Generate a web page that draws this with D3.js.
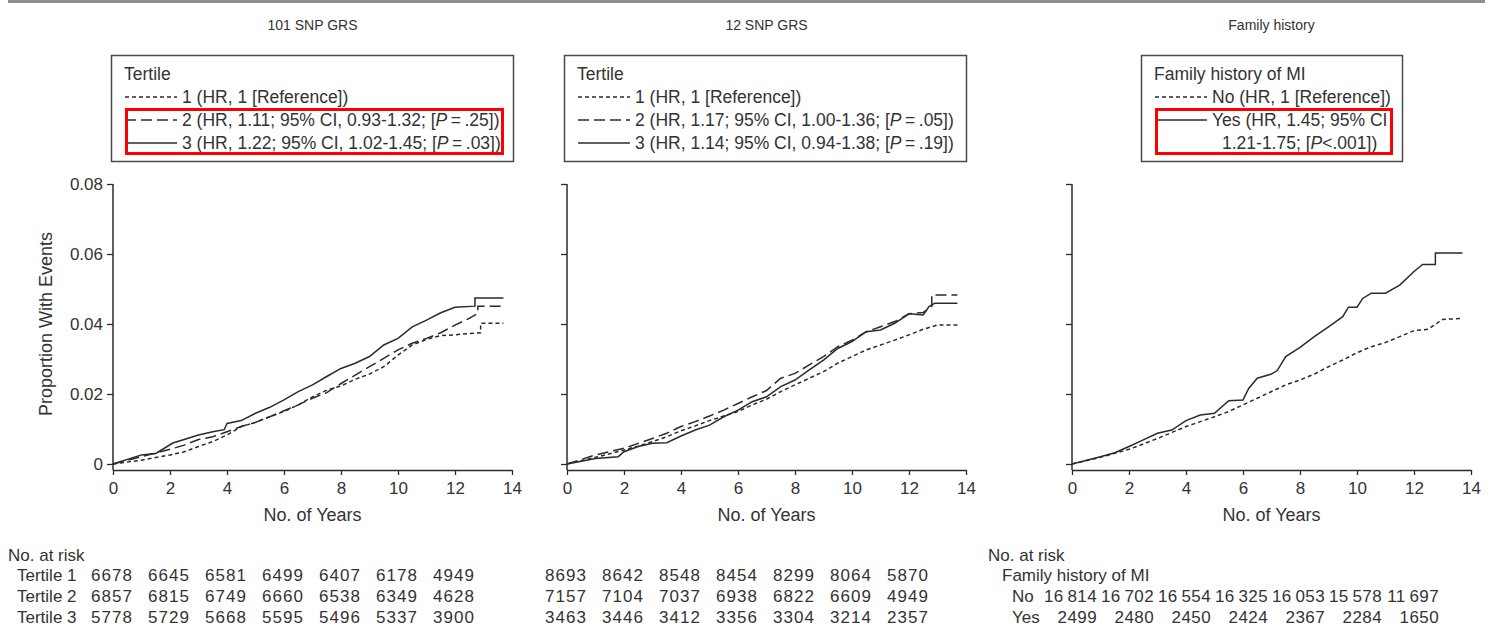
<!DOCTYPE html>
<html>
<head>
<meta charset="utf-8">
<script src="https://cdn.jsdelivr.net/npm/d3@7"></script>
<style>
  body { margin: 0; background: #fff; }
  svg text { font-family: "Liberation Sans", Arial, sans-serif; fill: #333; }
</style>
</head>
<body>
<svg id="chart" width="1494" height="627"></svg>
<script>
// cumulative event curves: [years, proportion]
const grs101T1 = [[0,0],[1,0.0011],[2,0.0026],[2.5,0.0035],[3,0.005],[3.5,0.0064],[4,0.0083],[4.5,0.0107],[5,0.0119],[5.5,0.0135],[6,0.015],[6.5,0.0169],[7,0.0192],[7.5,0.0211],[8,0.0223],[8.5,0.0242],[9,0.0257],[9.5,0.0278],[10,0.0311],[10.5,0.034],[11,0.0356],[11.5,0.0367],[12,0.0369],[12.5,0.0373],[12.9,0.0375],[12.9,0.0402],[13.7,0.0402]];
const grs101T2 = [[0,0],[1,0.0021],[2,0.0042],[2.5,0.0054],[3,0.007],[3.5,0.0078],[4,0.0092],[4.5,0.0107],[5,0.0119],[5.5,0.0135],[6,0.0152],[6.5,0.0169],[7,0.0188],[7.5,0.0204],[8,0.023],[8.5,0.0254],[9,0.0278],[9.5,0.0302],[10,0.0326],[10.5,0.0345],[11,0.0359],[11.5,0.0375],[12,0.0397],[12.5,0.0416],[12.8,0.043],[12.8,0.0451],[13.7,0.0451]];
const grs101T3 = [[0,0],[1,0.0026],[1.5,0.003],[2.1,0.006],[3,0.0083],[3.5,0.0092],[3.9,0.0098],[4,0.0116],[4.5,0.0124],[5,0.0145],[5.5,0.0162],[6,0.0183],[6.5,0.0207],[7,0.0226],[7.5,0.025],[8,0.0273],[8.5,0.0288],[9,0.0307],[9.5,0.034],[10,0.0359],[10.5,0.0392],[11,0.0411],[11.5,0.0432],[12,0.0448],[12.7,0.0451],[12.7,0.0474],[13.7,0.0474]];

const grs12T1 = [[0,0],[1,0.0019],[2,0.004],[2.5,0.0051],[3,0.0064],[3.5,0.0078],[4,0.0095],[4.5,0.0109],[5,0.0124],[5.5,0.0137],[6,0.015],[6.5,0.0169],[7,0.0185],[7.5,0.0207],[8,0.0226],[8.5,0.0245],[9,0.0264],[9.5,0.0288],[10,0.0307],[10.5,0.0326],[11,0.034],[11.5,0.0354],[12,0.0369],[12.5,0.0385],[13,0.0397],[13.7,0.0397]];
const grs12T2 = [[0,0],[1,0.0026],[2,0.0045],[2.5,0.0059],[3,0.0073],[3.5,0.0088],[4,0.0107],[4.5,0.0121],[5,0.0137],[5.5,0.0154],[6,0.0173],[6.5,0.0192],[7,0.021],[7.5,0.0245],[8,0.0259],[8.5,0.0283],[9,0.0307],[9.5,0.0335],[10,0.0354],[10.5,0.0378],[11,0.0392],[11.5,0.0407],[12,0.0429],[12.5,0.0433],[12.8,0.045],[12.8,0.0483],[13.7,0.0483]];
const grs12T3 = [[0,0],[1,0.0016],[1.8,0.0021],[2,0.0035],[2.5,0.005],[3,0.0059],[3.5,0.0061],[4,0.008],[4.5,0.0097],[5,0.0111],[5.5,0.0135],[6,0.0154],[6.5,0.0178],[7,0.0192],[7.5,0.0221],[8,0.024],[8.5,0.0269],[9,0.0297],[9.5,0.033],[10,0.035],[10.5,0.0378],[11,0.0383],[11.5,0.0402],[12,0.0429],[12.5,0.0426],[12.7,0.045],[12.9,0.0459],[13.7,0.0459]];

const famNo = [[0,0],[1,0.0019],[2,0.0042],[2.5,0.0057],[3,0.0073],[3.5,0.009],[4,0.0107],[4.5,0.0121],[5,0.0135],[5.5,0.015],[6,0.0169],[6.5,0.0188],[7,0.0207],[7.5,0.0226],[8,0.024],[8.5,0.0257],[9,0.0278],[9.5,0.0297],[10,0.0318],[10.5,0.0335],[11,0.0347],[11.5,0.0364],[12,0.0381],[12.5,0.0385],[13,0.0413],[13.7,0.0416]];
const famYes = [[0,0],[1,0.0021],[1.5,0.0032],[2,0.005],[2.5,0.0069],[3,0.0088],[3.5,0.0097],[4,0.0124],[4.5,0.014],[5,0.0145],[5.5,0.0181],[6,0.0183],[6.2,0.0216],[6.5,0.0245],[7,0.0257],[7.2,0.0267],[7.5,0.0307],[8,0.0333],[8.5,0.0364],[9,0.0392],[9.5,0.0421],[9.7,0.0448],[10,0.0448],[10.2,0.0473],[10.5,0.0488],[11,0.0488],[11.5,0.0511],[12,0.055],[12.3,0.057],[12.75,0.057],[12.75,0.0603],[13.7,0.0603]];

// numbers at risk
const riskYears = [0, 2, 4, 6, 8, 10, 12];
const risk101 = [[6678,6645,6581,6499,6407,6178,4949],[6857,6815,6749,6660,6538,6349,4628],[5778,5729,5668,5595,5496,5337,3900]];
const risk12 = [[8693,8642,8548,8454,8299,8064,5870],[7157,7104,7037,6938,6822,6609,4949],[3463,3446,3412,3356,3304,3214,2357]];
const riskFam = [[16814,16702,16554,16325,16053,15578,11697],[2499,2480,2450,2424,2367,2284,1650]];

const xTicks = [0, 2, 4, 6, 8, 10, 12, 14];
const yTicks = [0, 0.02, 0.04, 0.06, 0.08];

const panelTitles = ['101 SNP GRS', '12 SNP GRS', 'Family history'];
const tertileLabels = ['Tertile 1', 'Tertile 2', 'Tertile 3'];

const dashes = { short: '4,3', long: '11,5', solid: null };

const panels = [
  {
    title: panelTitles[0], x0: 113,
    series: [{ data: grs101T1, dash: 'short' }, { data: grs101T2, dash: 'long' }, { data: grs101T3, dash: 'solid' }],
    legend: { x: 111, w: 402, head: 'Tertile', rows: [
      { dash: 'short', lines: [['1 (HR, 1 [Reference])']] },
      { dash: 'long', lines: [['2 (HR, 1.11; 95% CI, 0.93-1.32; [', ['P', true], '\u2009=\u2009.25])']] },
      { dash: 'solid', lines: [['3 (HR, 1.22; 95% CI, 1.02-1.45; [', ['P', true], '\u2009=\u2009.03])']] }
    ], highlight: { w: 376 } },
    yLabels: true
  },
  {
    title: panelTitles[1], x0: 567,
    series: [{ data: grs12T1, dash: 'short' }, { data: grs12T2, dash: 'long' }, { data: grs12T3, dash: 'solid' }],
    legend: { x: 564, w: 402, head: 'Tertile', rows: [
      { dash: 'short', lines: [['1 (HR, 1 [Reference])']] },
      { dash: 'long', lines: [['2 (HR, 1.17; 95% CI, 1.00-1.36; [', ['P', true], '\u2009=\u2009.05])']] },
      { dash: 'solid', lines: [['3 (HR, 1.14; 95% CI, 0.94-1.38; [', ['P', true], '\u2009=\u2009.19])']] }
    ] },
    yLabels: false
  },
  {
    title: panelTitles[2], x0: 1072,
    series: [{ data: famNo, dash: 'short' }, { data: famYes, dash: 'solid' }],
    legend: { x: 1141, w: 261, head: 'Family history of MI', rows: [
      { dash: 'short', lines: [['No (HR, 1 [Reference])']] },
      { dash: 'solid', lines: [['Yes (HR, 1.45; 95% CI'], ['1.21-1.75; [', ['P', true], '<.001])']] }
    ], highlight: { w: 235 } },
    yLabels: false
  }
];

const svg = d3.select('#chart');
const ink = '#2b2b2b';

// grey rule across the top
svg.append('line').attr('x1', 8).attr('x2', 1485).attr('y1', 1.5).attr('y2', 1.5)
  .attr('stroke', '#8e8e8e').attr('stroke-width', 3);

panels.forEach((p, i) => {
  const x = d3.scaleLinear().domain([0, 14]).range([p.x0, p.x0 + 399]);
  const y = d3.scaleLinear().domain([0, 0.08]).range([464, 184]);
  const cx = (x.range()[0] + x.range()[1]) / 2;
  const g = svg.append('g');

  g.append('text').attr('x', cx).attr('y', 30).attr('text-anchor', 'middle')
    .style('font-size', '14px').text(p.title);

  // y axis
  const yAxis = g.append('g').attr('transform', `translate(${p.x0},0)`)
    .call(d3.axisLeft(y).tickValues(yTicks).tickSize(6).tickPadding(4)
      .tickFormat(p.yLabels ? (d) => (d === 0 ? '0' : d3.format('.2f')(d)) : () => ''));
  yAxis.select('.domain').remove();
  yAxis.selectAll('line').attr('stroke', ink).attr('stroke-width', 1.3);
  yAxis.selectAll('text').style('font-size', '17px').attr('fill', '#333');
  g.append('line').attr('x1', p.x0).attr('x2', p.x0).attr('y1', y(0.08)).attr('y2', y(0) + 6)
    .attr('stroke', ink).attr('stroke-width', 1.5);

  // x axis
  const xAxis = g.append('g').attr('transform', `translate(0,${y(0) + 6})`)
    .call(d3.axisBottom(x).tickValues(xTicks).tickSize(5).tickPadding(7).tickSizeOuter(0));
  xAxis.select('.domain').attr('stroke', ink).attr('stroke-width', 1.5);
  xAxis.selectAll('line').attr('stroke', ink).attr('stroke-width', 1.3);
  xAxis.selectAll('text').style('font-size', '17px').attr('fill', '#333');

  g.append('text').attr('x', cx).attr('y', 521).attr('text-anchor', 'middle')
    .style('font-size', '18px').text('No. of Years');

  if (p.yLabels) {
    g.append('text').attr('transform', `translate(52,${(y(0) + y(0.08)) / 2}) rotate(-90)`)
      .attr('text-anchor', 'middle').style('font-size', '18px').text('Proportion With Events');
  }

  // curves
  const line = d3.line().x((d) => x(d[0])).y((d) => y(d[1]));
  g.selectAll('path.curve').data(p.series).join('path')
    .attr('class', 'curve')
    .attr('d', (d) => line(d.data))
    .attr('fill', 'none')
    .attr('stroke', ink)
    .attr('stroke-width', 1.5)
    .attr('stroke-dasharray', (d) => dashes[d.dash]);

  // legend
  const L = p.legend;
  const lg = g.append('g');
  lg.append('rect').attr('x', L.x + 0.5).attr('y', 55.5).attr('width', L.w).attr('height', 106)
    .attr('fill', '#fff').attr('stroke', '#4a4a4a').attr('stroke-width', 1.5);
  lg.append('text').attr('x', L.x + 13).attr('y', 80).style('font-size', '17.5px').text(L.head);
  let row = 0;
  L.rows.forEach((r) => {
    r.lines.forEach((parts, k) => {
      const by = 103 + row * 23;
      if (k === 0) {
        lg.append('line').attr('x1', L.x + 14).attr('x2', L.x + 66).attr('y1', by - 6).attr('y2', by - 6)
          .attr('stroke', ink).attr('stroke-width', 1.5).attr('stroke-dasharray', dashes[r.dash]);
      }
      const t = lg.append('text').attr('x', L.x + (k === 0 ? 71 : 81)).attr('y', by).style('font-size', '17.5px');
      parts.forEach((part) => {
        if (Array.isArray(part)) t.append('tspan').style('font-style', 'italic').text(part[0]);
        else t.append('tspan').text(part);
      });
      row += 1;
    });
  });
  if (L.highlight) {
    lg.append('rect').attr('x', L.x + 15.5).attr('y', 109.5).attr('width', L.highlight.w).attr('height', 44)
      .attr('fill', 'none').attr('stroke', '#ff0000').attr('stroke-width', 3);
  }

  // numbers at risk
  const rowY = [581, 602, 623];
  if (i === 0) {
    g.append('text').attr('x', 8).attr('y', 561).style('font-size', '17px').text('No. at risk');
    tertileLabels.forEach((lab, k) => {
      g.append('text').attr('x', 17).attr('y', rowY[k]).style('font-size', '17px').text(lab);
    });
  }
  if (i < 2) {
    const tab = i === 0 ? risk101 : risk12;
    tab.forEach((vals, k) => {
      g.selectAll(null).data(vals).join('text')
        .attr('x', (d, j) => x(riskYears[j]) - 1).attr('y', rowY[k])
        .attr('text-anchor', 'middle').style('font-size', '17px').style('letter-spacing', '1.1px')
        .text((d) => d);
    });
  } else {
    g.append('text').attr('x', 988).attr('y', 561).style('font-size', '17px').text('No. at risk');
    g.append('text').attr('x', 1002).attr('y', 581).style('font-size', '17px').text('Family history of MI');
    // thin-space grouping only for five-digit counts
    const fmt = (d) => (d >= 10000 ? d3.format(',')(d).replace(',', '\u2009') : String(d));
    ['No', 'Yes'].forEach((lab, k) => {
      g.append('text').attr('x', 1012).attr('y', rowY[k + 1]).style('font-size', '17px').text(lab);
      g.selectAll(null).data(riskFam[k]).join('text')
        .attr('x', (d, j) => x(riskYears[j]) + 25).attr('y', rowY[k + 1])
        .attr('text-anchor', 'end').style('font-size', '17px').style('letter-spacing', '0.4px')
        .text(fmt);
    });
  }
});
</script>
</body>
</html>
